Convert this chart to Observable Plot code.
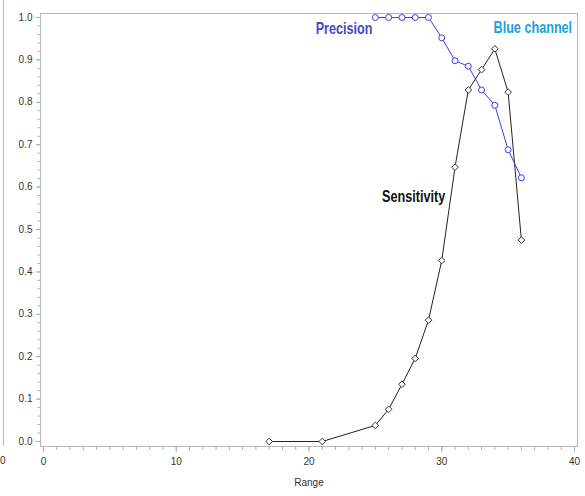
<!DOCTYPE html>
<html>
<head>
<meta charset="utf-8">
<script src="https://cdn.jsdelivr.net/npm/d3@7"></script>
<script src="https://cdn.jsdelivr.net/npm/@observablehq/plot@0.6"></script>
<style>
  html, body { margin: 0; padding: 0; background: #fff; }
  #wrap { position: relative; width: 585px; height: 496px; overflow: hidden; }
  #edge { position: absolute; left: 3px; top: 0; width: 1px; height: 446px; background: #b5baba; }
  #edge0 { position: absolute; left: 0px; top: 455px; font: 10px "Liberation Sans", sans-serif; color: #333; }
</style>
</head>
<body>
<div id="wrap">
  <div id="chart"></div>
  <div id="edge"></div>
  <div id="edge0">0</div>
</div>
<script>
// Sensitivity (black, diamonds)
const sensRange = [17, 21, 25, 26, 27, 28, 29, 30, 31, 32, 33, 34, 35, 36];
const sensValue = [0, 0, 0.038, 0.076, 0.135, 0.196, 0.286, 0.427, 0.647, 0.829, 0.877, 0.926, 0.824, 0.475];

// Precision (blue, circles)
const precRange = [25, 26, 27, 28, 29, 30, 31, 32, 33, 34, 35, 36];
const precValue = [1.0, 1.0, 1.0, 1.0, 1.0, 0.952, 0.898, 0.885, 0.829, 0.793, 0.688, 0.622];

// Tick labels
const xTicks = [0, 10, 20, 30, 40];
const xMinor = d3.range(0, 41, 1);
const yTicks = [0, 0.1, 0.2, 0.3, 0.4, 0.5, 0.6, 0.7, 0.8, 0.9, 1.0];
const yMinor = d3.range(0, 51).map(i => i / 50);

// Annotation labels
const labelText = ["Precision", "Blue channel", "Sensitivity"];
const labelX = [20.5, 33.9, 25.5];
const labelY = [0.973, 0.975, 0.578];
const labelColor = ["#4747cc", "#1c9fe3", "#111111"];

const sens = sensRange.map((r, i) => ({range: r, value: sensValue[i]}));
const prec = precRange.map((r, i) => ({range: r, value: precValue[i]}));
const labels = labelText.map((t, i) => ({text: t, x: labelX[i], y: labelY[i], color: labelColor[i]}));

const axisColor = "#aab0b0";
const textColor = "#333";

const chart = Plot.plot({
  width: 585,
  height: 496,
  marginLeft: 40,
  marginRight: 8,
  marginTop: 13,
  marginBottom: 50,
  style: {fontFamily: '"Liberation Sans", sans-serif', fontSize: "10px", background: "#fff"},
  x: {domain: [-0.226, 40.226]},
  y: {domain: [-0.0118, 1.0094]},
  marks: [
    Plot.frame({stroke: "#b5baba"}),
    Plot.axisY({ticks: yMinor, tickSize: 2.5, text: null, stroke: axisColor, label: null}),
    Plot.axisY({ticks: yTicks, tickSize: 4, tickPadding: 4, tickFormat: d => d.toFixed(1), stroke: axisColor, fill: textColor, label: null}),
    Plot.axisX({ticks: xMinor, tickSize: 4, text: null, stroke: axisColor, label: null}),
    Plot.axisX({ticks: xTicks, tickSize: 6, tickPadding: 5, tickFormat: d => String(d), stroke: axisColor, fill: textColor, label: null}),
    Plot.text(["Range"], {frameAnchor: "bottom", dy: 39, fill: textColor, fontSize: 10}),
    Plot.line(sens, {x: "range", y: "value", stroke: "#222", strokeWidth: 1}),
    Plot.dot(sens, {x: "range", y: "value", symbol: "diamond2", r: 3, stroke: "#333", fill: "white", strokeWidth: 1}),
    Plot.line(prec, {x: "range", y: "value", stroke: "#3c3cf2", strokeWidth: 1}),
    Plot.dot(prec, {x: "range", y: "value", symbol: "circle", r: 3, stroke: "#3c3cf2", fill: "white", strokeWidth: 1}),
    Plot.text(labels, {x: "x", y: "y", text: "text", fill: "color", textAnchor: "start", fontSize: 16, fontWeight: "bold", fontFamily: '"Liberation Sans", sans-serif'})
  ]
});
document.getElementById("chart").appendChild(chart);

// condense the bold annotation labels horizontally (the original uses a narrow font)
d3.select(chart).selectAll("text").each(function() {
  if (labelText.includes(this.textContent)) {
    const x = +(this.getAttribute("x") || 0);
    const t = this.getAttribute("transform") || "";
    this.setAttribute("transform", `${t} translate(${x},0) scale(0.79,1) translate(${-x},0)`);
  }
});
</script>
</body>
</html>
